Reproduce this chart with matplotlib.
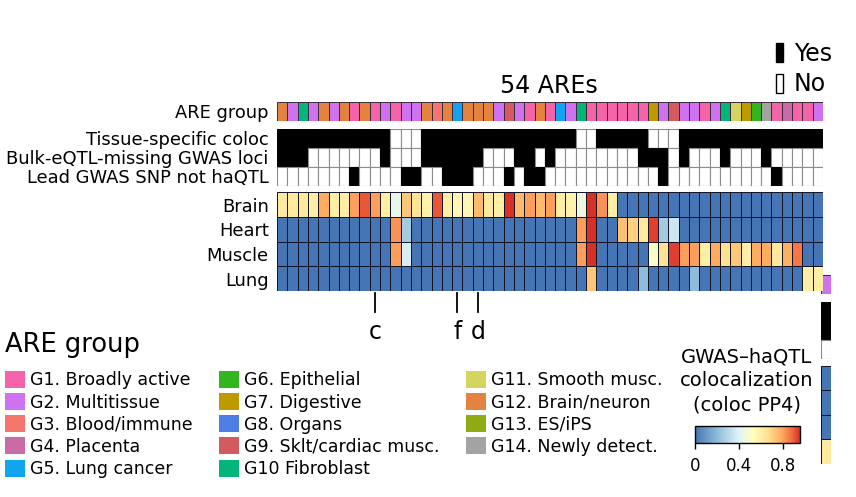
import numpy as np
import matplotlib.pyplot as plt
from matplotlib.patches import Rectangle, Patch
from matplotlib.colors import LinearSegmentedColormap, Normalize
from matplotlib.cm import ScalarMappable

plt.rcParams['font.family'] = ['DejaVu Sans']

W, H = 856, 497

# === ARE groups ===
group_names = ["G1. Broadly active", "G2. Multitissue", "G3. Blood/immune", "G4. Placenta",
               "G5. Lung cancer", "G6. Epithelial", "G7. Digestive", "G8. Organs",
               "G9. Sklt/cardiac musc.", "G10 Fibroblast", "G11. Smooth musc.",
               "G12. Brain/neuron", "G13. ES/iPS", "G14. Newly detect."]
group_colors = ["#f564a9", "#cf72f0", "#f4766d", "#c96ba6", "#12a5ef", "#33b51f", "#bd9a00",
                "#4c7ee6", "#d35a5f", "#03b57b", "#d4d45f", "#e48240", "#8eab14", "#a3a3a3"]

# group number of each of the 54 AREs (the last one is drawn displaced, as in the figure)
are_group = [12, 2, 10, 2, 12, 2, 12, 1, 12, 1,
             2, 1, 2, 2, 12, 3, 12, 5, 12, 12,
             12, 2, 9, 2, 1, 12, 1, 5, 2, 10,
             1, 1, 1, 1, 1, 1, 7, 2, 9, 2,
             2, 1, 2, 10, 11, 7, 6, 14, 1, 4,
             1, 1, 2, 2]

# === Yes / No annotations ===
binary_labels = ["Tissue-specific coloc", "Bulk-eQTL-missing GWAS loci", "Lead GWAS SNP not haQTL"]
tissue_specific = [1, 1, 1, 1, 1, 1, 1, 1, 1, 1,
                   1, 0, 0, 0, 1, 1, 1, 1, 1, 1,
                   1, 1, 1, 1, 1, 1, 1, 1, 1, 0,
                   0, 1, 1, 1, 1, 1, 0, 0, 0, 1,
                   1, 1, 1, 1, 1, 1, 1, 1, 1, 1,
                   1, 1, 1, 1]
bulk_missing = [1, 1, 1, 0, 0, 0, 0, 0, 0, 0,
                1, 0, 0, 0, 1, 1, 1, 1, 1, 1,
                0, 0, 0, 1, 1, 0, 1, 0, 0, 0,
                0, 0, 0, 0, 0, 1, 1, 1, 0, 1,
                0, 0, 0, 1, 0, 0, 0, 1, 0, 0,
                0, 0, 0, 1]
lead_not_haqtl = [0, 0, 0, 0, 0, 0, 0, 1, 0, 0,
                  0, 0, 1, 1, 0, 0, 1, 1, 1, 0,
                  0, 0, 1, 0, 1, 1, 0, 0, 0, 0,
                  0, 0, 0, 0, 0, 0, 0, 1, 0, 0,
                  0, 0, 0, 0, 0, 0, 0, 0, 1, 0,
                  0, 0, 0, 0]

# === coloc PP4 per tissue ===
tissues = ["Brain", "Heart", "Muscle", "Lung"]
pp4_brain = [.62, .62, .62, .60, .78, .60, .60, .80, .90, .80,
             .60, .42, .72, .65, .58, .90, .60, .56, .56, .75,
             .62, .60, .95, .75, .80, .75, .80, .60, .58, .45,
             .97, .82, .60, 0, 0, 0, 0, 0, 0, 0,
             0, 0, 0, 0, 0, 0, 0, 0, 0, 0,
             0, 0, 0, 0]
pp4_heart = [0, 0, 0, 0, 0, 0, 0, 0, 0, 0,
             0, .82, .25, 0, 0, 0, 0, 0, 0, 0,
             0, 0, 0, 0, 0, 0, 0, 0, 0, .80,
             .95, 0, 0, .74, .70, .62, .93, .25, .35, 0,
             0, 0, 0, 0, 0, 0, 0, 0, 0, 0,
             0, 0, 0, 0]
pp4_muscle = [0, 0, 0, 0, 0, 0, 0, 0, 0, 0,
              0, .80, .38, 0, 0, 0, 0, 0, 0, 0,
              0, 0, 0, 0, 0, 0, 0, 0, 0, .80,
              .95, 0, 0, 0, 0, 0, .50, .65, .93, .80,
              .80, .60, .78, .66, .72, .60, .78, .78, .62, .77,
              .86, 0, 0, 0]
pp4_lung = [0, 0, 0, 0, 0, 0, 0, 0, 0, 0,
            0, 0, 0, 0, 0, 0, 0, 0, 0, 0,
            0, 0, 0, 0, 0, 0, 0, 0, 0, 0,
            .72, 0, 0, 0, 0, .20, 0, 0, 0, 0,
            .20, 0, 0, 0, 0, 0, 0, 0, 0, 0,
            0, .60, .60, .62]

# columns pointed to by panel letters
marker_cols = [10, 18, 20]
marker_labels = ["c", "f", "d"]

n_main = 53  # columns in the main grid

cmap = LinearSegmentedColormap.from_list("pp4", [
    (0.0, "#4575b4"), (0.22, "#91bfdb"), (0.42, "#e0f3f8"), (0.55, "#ffffbf"),
    (0.7, "#fee090"), (0.82, "#fdae61"), (0.92, "#f46d43"), (1.0, "#d73027")])
norm = Normalize(0, 0.95)

binary = np.array([tissue_specific, bulk_missing, lead_not_haqtl])
heat = np.array([pp4_brain, pp4_heart, pp4_muscle, pp4_lung])


def frac(x0, y0, x1, y1):
    return [x0 / W, 1 - y1 / H, (x1 - x0) / W, (y1 - y0) / H]


def draw_block(ax, cols, kind):
    for j, c in enumerate(cols):
        if kind == "group":
            ax.add_patch(Rectangle((j, 0), 1, 1, fc=group_colors[are_group[c] - 1],
                                   ec="#3a2a3a", lw=0.7))
        elif kind == "binary":
            for r in range(binary.shape[0]):
                on = binary[r, c] == 1
                ax.add_patch(Rectangle((j, r), 1, 1, fc="black" if on else "white",
                                       ec="black" if on else "#8c8c8c", lw=0.8))
        else:
            for r in range(heat.shape[0]):
                ax.add_patch(Rectangle((j, r), 1, 1, fc=cmap(norm(heat[r, c])),
                                       ec="#111122", lw=0.7))


fig = plt.figure(figsize=(W / 100, H / 100), dpi=100)

blocks = [("group", (102, 121), 1, ["ARE group"]),
          ("binary", (128.5, 186), 3, binary_labels),
          ("heat", (192.5, 291), 4, tissues)]

main_axes = {}
for kind, (y0, y1), nrow, labels in blocks:
    ax = fig.add_axes(frac(277, y0, 823, y1))
    draw_block(ax, range(n_main), kind)
    ax.set_xlim(0, n_main)
    ax.set_ylim(nrow, 0)
    ax.set_xticks([])
    ax.set_yticks(np.arange(nrow) + 0.5, labels, fontsize=12.9)
    ax.tick_params(axis="y", length=0, pad=6)
    for s in ax.spines.values():
        s.set_visible(False)
    main_axes[kind] = ax

    # the 54th ARE, displaced below the right edge
    ax2 = fig.add_axes(frac(821, y0 + 173, 821 + 546 / n_main, y1 + 173))
    draw_block(ax2, [n_main], kind)
    ax2.set_xlim(0, 1)
    ax2.set_ylim(nrow, 0)
    ax2.axis("off")

ax_heat = main_axes["heat"]
for c, lab in zip(marker_cols, marker_labels):
    ax_heat.plot([c - 0.5, c - 0.5], [4.08, 4.85], color="black", lw=1.3, clip_on=False)
    ax_heat.text(c - 0.5, 5.65, lab, ha="center", va="center", fontsize=17)

fig.text(549 / W, 1 - 86 / H, "54 AREs", ha="center", va="center", fontsize=17)

# Yes / No key
fig.legend([Patch(fc="black", ec="black"), Patch(fc="white", ec="black")], ["Yes", "No"],
           loc="upper left", bbox_to_anchor=(776 / W, 1 - 42 / H), frameon=False,
           fontsize=17, handlelength=0.3, handleheight=0.85, handletextpad=0.45,
           labelspacing=0.27, borderpad=0, borderaxespad=0)

# ARE group legend
fig.text(5 / W, 1 - 345 / H, "ARE group", ha="left", va="center", fontsize=18.5)
handles = [Patch(fc=col, ec="none") for col in group_colors]
fig.legend(handles, group_names, ncol=3, loc="upper left",
           bbox_to_anchor=(5 / W, 1 - 371 / H), frameon=False, fontsize=12.5,
           handlelength=1.15, handleheight=1.12, handletextpad=0.3,
           columnspacing=1.5, labelspacing=0.22, borderpad=0, borderaxespad=0)

# colour bar
fig.text(747 / W, 1 - 381 / H, "GWAS\u2013haQTL\ncolocalization\n(coloc PP4)",
         ha="center", va="center", fontsize=14, linespacing=1.33)
cax = fig.add_axes(frac(695, 426, 800, 443))
cb = fig.colorbar(ScalarMappable(norm=norm, cmap=cmap), cax=cax,
                  orientation="horizontal", ticks=[0, 0.4, 0.8])
cb.ax.set_xticklabels(["0", "0.4", "0.8"])
cb.ax.tick_params(labelsize=12, length=4, width=1, pad=6)
cb.outline.set_linewidth(1)

fig.savefig("out.png", dpi=100)
